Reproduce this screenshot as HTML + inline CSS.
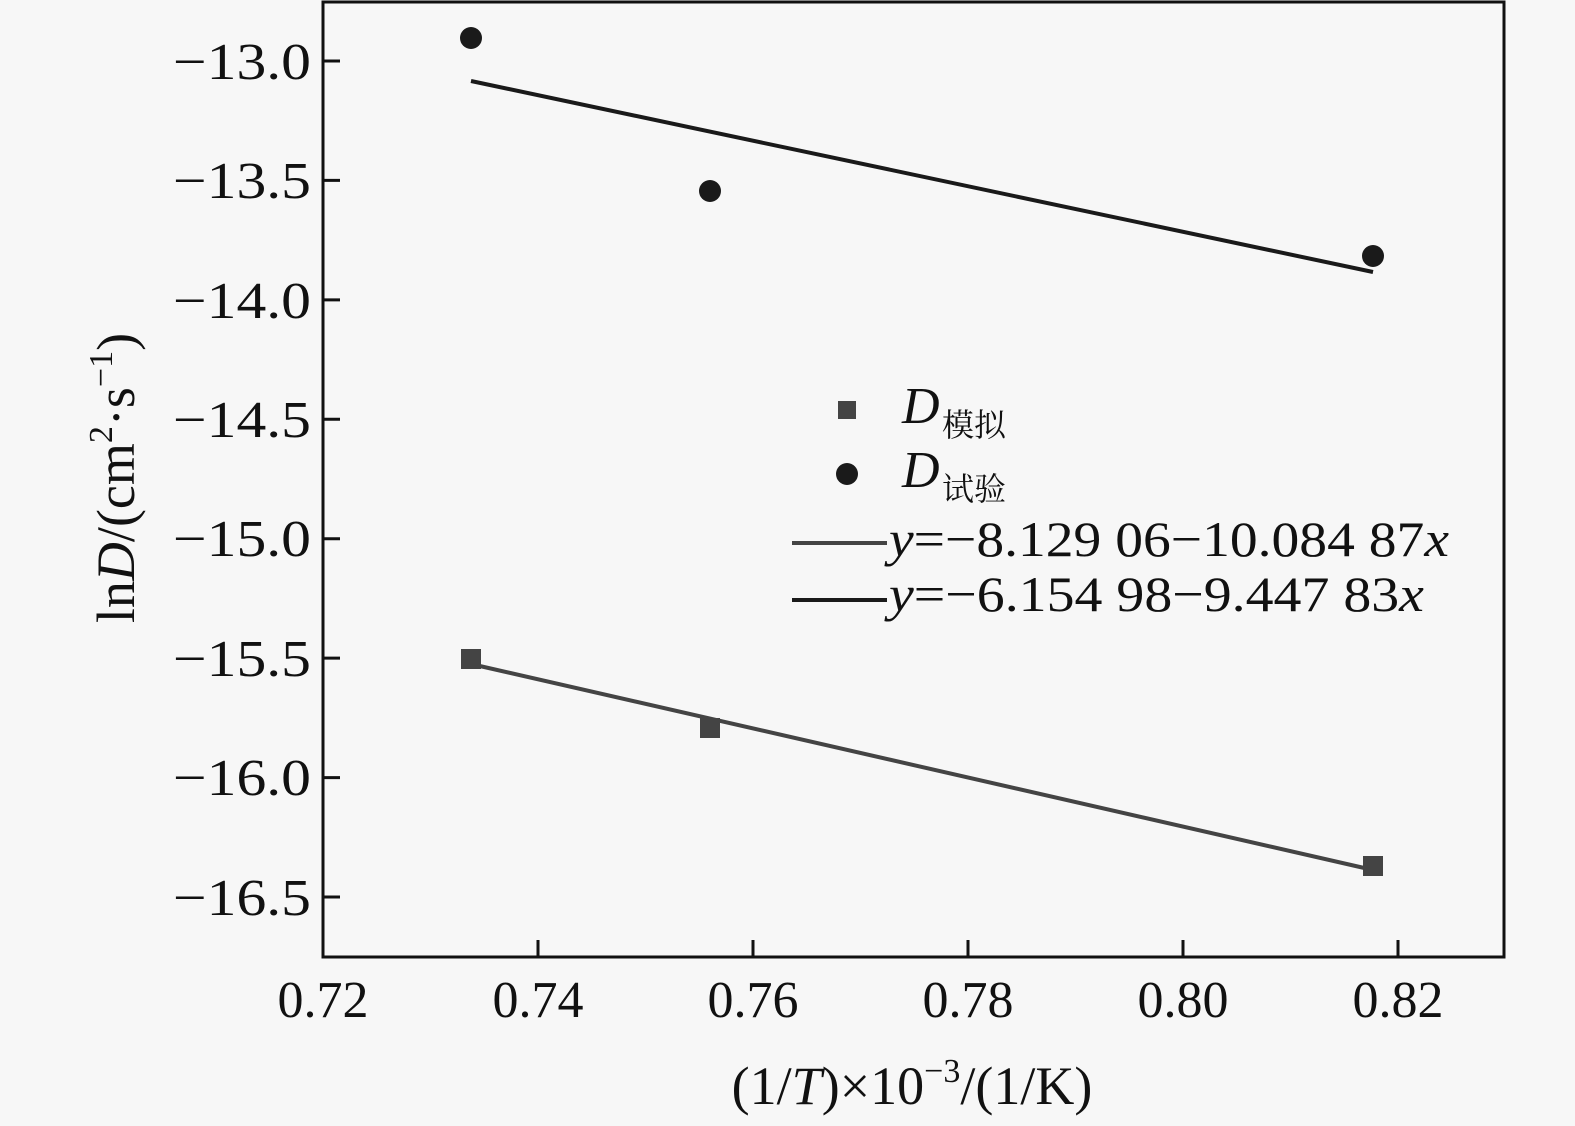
<!DOCTYPE html>
<html><head><meta charset="utf-8"><style>
html,body{margin:0;padding:0;background:#f7f7f7;}
svg{display:block;}
text{font-family:"Liberation Serif","Noto Serif CJK SC",serif;fill:#111;}
</style></head><body>
<svg width="1575" height="1126" viewBox="0 0 1575 1126" xmlns="http://www.w3.org/2000/svg">
<rect width="1575" height="1126" fill="#f7f7f7"/>
<rect x="323" y="2" width="1181" height="955" fill="none" stroke="#111" stroke-width="3"/>
<g stroke="#111" stroke-width="3">
<line x1="323" y1="61" x2="340" y2="61"/>
<line x1="323" y1="180.4" x2="340" y2="180.4"/>
<line x1="323" y1="299.9" x2="340" y2="299.9"/>
<line x1="323" y1="419.3" x2="340" y2="419.3"/>
<line x1="323" y1="538.7" x2="340" y2="538.7"/>
<line x1="323" y1="658.1" x2="340" y2="658.1"/>
<line x1="323" y1="777.6" x2="340" y2="777.6"/>
<line x1="323" y1="897" x2="340" y2="897"/>
<line x1="538" y1="957" x2="538" y2="940"/>
<line x1="753" y1="957" x2="753" y2="940"/>
<line x1="968" y1="957" x2="968" y2="940"/>
<line x1="1183" y1="957" x2="1183" y2="940"/>
<line x1="1398" y1="957" x2="1398" y2="940"/>
</g>
<g font-size="52">
<text x="173" y="79" textLength="138" lengthAdjust="spacingAndGlyphs">−13.0</text>
<text x="173" y="198" textLength="138" lengthAdjust="spacingAndGlyphs">−13.5</text>
<text x="173" y="318" textLength="138" lengthAdjust="spacingAndGlyphs">−14.0</text>
<text x="173" y="437" textLength="138" lengthAdjust="spacingAndGlyphs">−14.5</text>
<text x="173" y="556" textLength="138" lengthAdjust="spacingAndGlyphs">−15.0</text>
<text x="173" y="676" textLength="138" lengthAdjust="spacingAndGlyphs">−15.5</text>
<text x="173" y="795" textLength="138" lengthAdjust="spacingAndGlyphs">−16.0</text>
<text x="173" y="915" textLength="138" lengthAdjust="spacingAndGlyphs">−16.5</text>
</g>
<g font-size="52" text-anchor="middle">
<text x="323" y="1017">0.72</text>
<text x="538" y="1017">0.74</text>
<text x="753" y="1017">0.76</text>
<text x="968" y="1017">0.78</text>
<text x="1183" y="1017">0.80</text>
<text x="1398" y="1017">0.82</text>
</g>
<text x="912" y="1104" font-size="54" text-anchor="middle">(1/<tspan font-style="italic">T</tspan>)×10<tspan font-size="34" dy="-22">−3</tspan><tspan dy="22">/(1/K)</tspan></text>
<text transform="translate(134,478) rotate(-90)" font-size="54" text-anchor="middle">ln<tspan font-style="italic">D</tspan>/(cm<tspan font-size="34" dy="-22">2</tspan><tspan dy="22">·s</tspan><tspan font-size="34" dy="-22">−1</tspan><tspan dy="22">)</tspan></text>
<line x1="471" y1="81" x2="1373" y2="272" stroke="#1a1a1a" stroke-width="4"/>
<line x1="471" y1="664" x2="1373" y2="870" stroke="#444" stroke-width="4"/>
<g fill="#1a1a1a">
<circle cx="471" cy="38" r="11"/>
<circle cx="710" cy="191" r="11"/>
<circle cx="1373" cy="256" r="11"/>
</g>
<g fill="#444">
<rect x="461" y="649" width="20" height="20"/>
<rect x="700" y="718" width="20" height="20"/>
<rect x="1363" y="856" width="20" height="20"/>
</g>
<rect x="838" y="401" width="18" height="18" fill="#444"/>
<circle cx="847" cy="474" r="11" fill="#1a1a1a"/>
<text x="902" y="423" font-size="52" font-style="italic">D</text>
<text x="942" y="436" font-size="32">模拟</text>
<text x="902" y="487" font-size="52" font-style="italic">D</text>
<text x="942" y="500" font-size="32">试验</text>
<line x1="792" y1="543" x2="887" y2="543" stroke="#444" stroke-width="4"/>
<line x1="792" y1="600" x2="887" y2="600" stroke="#1a1a1a" stroke-width="4"/>
<text x="889" y="556" font-size="50" textLength="560" lengthAdjust="spacingAndGlyphs"><tspan font-style="italic">y</tspan>=−8.129 06−10.084 87<tspan font-style="italic">x</tspan></text>
<text x="889" y="611" font-size="50" textLength="535" lengthAdjust="spacingAndGlyphs"><tspan font-style="italic">y</tspan>=−6.154 98−9.447 83<tspan font-style="italic">x</tspan></text>
</svg>
</body></html>
